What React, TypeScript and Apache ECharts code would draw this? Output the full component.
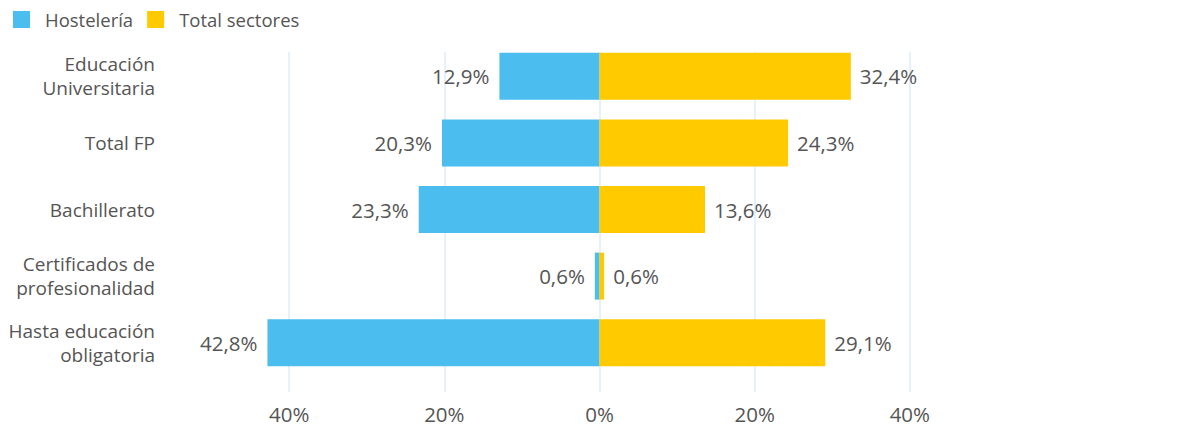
import React, { useEffect, useRef } from "react";
import * as echarts from "echarts";

const categories = [
  "Educación\nUniversitaria",
  "Total FP",
  "Bachillerato",
  "Certificados de\nprofesionalidad",
  "Hasta educación\nobligatoria",
];
const hosteleria = [12.9, 20.3, 23.3, 0.6, 42.8];
const totalSectores = [32.4, 24.3, 13.6, 0.6, 29.1];
const seriesNames = ["Hostelería", "Total sectores"];

const FONT = "'Open Sans', 'Noto Sans', sans-serif";
const TEXT = "#555555";
const BLUE = "#4BBDEF";
const YELLOW = "#FFCA00";
const GRIDLINE = "#DCEEFB";

const fmt = (v: number) => Math.abs(v).toFixed(1).replace(".", ",") + "%";

export default function App() {
  const ref = useRef<HTMLDivElement>(null);
  useEffect(() => {
    if (!ref.current) return;
    const chart = echarts.init(ref.current, undefined, { renderer: "svg" });
    chart.setOption({
      animation: false,
      textStyle: { fontFamily: FONT, color: TEXT },
      legend: {
        left: 13,
        top: 10,
        padding: 0,
        itemWidth: 17,
        itemHeight: 17,
        itemGap: 14,
        icon: "rect",
        data: seriesNames,
        textStyle: { fontFamily: FONT, fontSize: 18.5, color: TEXT, padding: [0, 0, 0, 10] },
      },
      grid: [
        { left: 134, right: 115, top: 52, height: 340 },
        { left: 134, right: 115, top: 43, height: 333 },
      ],
      xAxis: [
        {
          gridIndex: 0,
          type: "value",
          min: -60,
          max: 60,
          interval: 20,
          axisLine: { show: false },
          axisTick: { show: false },
          splitLine: {
            show: true,
            showMinLine: false,
            showMaxLine: false,
            lineStyle: { color: GRIDLINE, width: 1.5 },
          },
          axisLabel: {
            showMinLabel: false,
            showMaxLabel: false,
            margin: 11,
            fontFamily: FONT,
            fontSize: 20.5,
            color: TEXT,
            formatter: (v: number) => (Math.abs(v) >= 60 ? "" : Math.abs(v) + "%"),
          },
        },
        {
          gridIndex: 1,
          type: "value",
          min: -60,
          max: 60,
          show: false,
          splitLine: { show: false },
        },
      ],
      yAxis: [
        {
          gridIndex: 0,
          type: "category",
          data: categories,
          show: false,
        },
        {
          gridIndex: 1,
          type: "category",
          data: categories,
          inverse: true,
          offset: -29,
          axisLine: { show: false },
          axisTick: { show: false },
          splitLine: { show: false },
          axisLabel: {
            margin: 8,
            fontFamily: FONT,
            fontSize: 19,
            lineHeight: 24,
            color: TEXT,
            align: "right",
          },
        },
      ],
      series: [
        {
          name: seriesNames[0],
          type: "bar",
          xAxisIndex: 1,
          yAxisIndex: 1,
          stack: "s",
          barWidth: 47,
          itemStyle: { color: BLUE },
          data: hosteleria.map((v) => -v),
          label: {
            show: true,
            position: "left",
            distance: 10,
            fontFamily: FONT,
            fontSize: 20.5,
            color: TEXT,
            formatter: (p: any) => fmt(p.value),
          },
        },
        {
          name: seriesNames[1],
          type: "bar",
          xAxisIndex: 1,
          yAxisIndex: 1,
          stack: "s",
          barWidth: 47,
          itemStyle: { color: YELLOW },
          data: totalSectores,
          label: {
            show: true,
            position: "right",
            distance: 9,
            fontFamily: FONT,
            fontSize: 20.5,
            color: TEXT,
            formatter: (p: any) => fmt(p.value),
          },
        },
      ],
    });
    return () => chart.dispose();
  }, []);
  return (
    <div
      ref={ref}
      style={{ position: "fixed", left: 0, top: 0, width: 1180, height: 432, background: "#fff" }}
    />
  );
}
